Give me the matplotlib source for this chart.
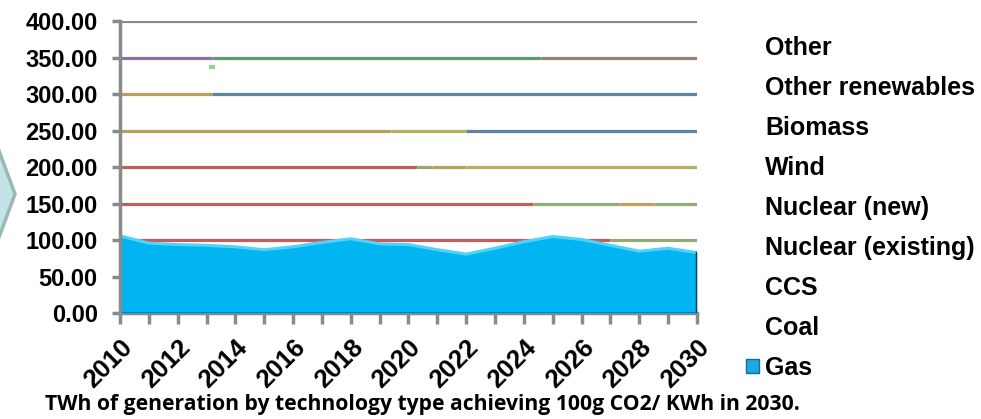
import matplotlib.pyplot as plt
from matplotlib.patches import Patch, Polygon
import numpy as np

plt.rcParams["font.family"] = ["Liberation Sans", "DejaVu Sans"]

# data
years = list(range(2010, 2031))
gas = [106, 96, 94, 93, 91, 87, 91, 97, 102, 95, 94, 87, 81, 89, 98, 105, 101, 93, 85, 89, 83]
series_names = ["Other", "Other renewables", "Biomass", "Wind", "Nuclear (new)",
                "Nuclear (existing)", "CCS", "Coal", "Gas"]
y_ticks = [0, 50, 100, 150, 200, 250, 300, 350, 400]
x_labels = list(range(2010, 2031, 2))
title = "TWh of generation by technology type achieving 100g CO2/ KWh in 2030."

# coloured gridline pieces (level, from, to, colour) - just styling
grid_pieces = [
    (400, 2010, 2030, "#8a8a8a"),
    (350, 2010, 2013.2, "#87739a"),
    (350, 2013.2, 2024.6, "#5f9878"),
    (350, 2024.6, 2030, "#948070"),
    (300, 2010, 2013.2, "#b89f5c"),
    (300, 2013.2, 2030, "#5f84a2"),
    (250, 2010, 2019.4, "#b89f5c"),
    (250, 2019.4, 2022.0, "#b2b064"),
    (250, 2022.0, 2030, "#5f84a2"),
    (200, 2010, 2020.3, "#c0605e"),
    (200, 2020.3, 2020.8, "#94a878"),
    (200, 2020.8, 2022.0, "#b89f5c"),
    (200, 2022.0, 2030, "#b2b064"),
    (150, 2010, 2024.3, "#c0605e"),
    (150, 2024.3, 2027.3, "#94ab78"),
    (150, 2027.3, 2028.5, "#bea25c"),
    (150, 2028.5, 2030, "#94ab78"),
    (100, 2010, 2027.0, "#c0605e"),
    (100, 2027.0, 2030, "#94ab78"),
]

fig = plt.figure(figsize=(9.81, 4.19), dpi=100)
ax = fig.add_axes([0.1223, 0.2523, 0.5882, 0.6976])

for lev, x0, x1, c in grid_pieces:
    ax.hlines(lev, x0, x1, colors=c, lw=2.3, zorder=1)
# small stray mark
ax.hlines(337, 2013.1, 2013.3, colors="#90d49a", lw=3, zorder=1)

# gas area
ax.fill_between(years, gas, color="#00b5f1", zorder=3, lw=0)
ax.plot(years, gas, color="#52d2fa", lw=2.2, zorder=4, solid_capstyle="butt")
ax.plot(years, [0] * len(years), color="#1d6f92", lw=2, zorder=4)
ax.plot([years[-1], years[-1]], [0, gas[-1]], color="#0c3a52", lw=2.5, zorder=4)

ax.set_xlim(2010, 2030)
ax.set_ylim(0, 400)
ax.set_yticks(y_ticks)
ax.set_yticklabels(["%.2f" % v for v in y_ticks], fontsize=17, fontweight="bold")
ax.set_xticks(years)
ax.set_xticklabels([str(y) if y in x_labels else "" for y in years], fontsize=18.5,
                   fontweight="bold", rotation=45, ha="right", rotation_mode="anchor")
ax.tick_params(axis="y", length=6, width=2.5, color="#8a8a8a", pad=10)
ax.tick_params(axis="x", length=8, width=2.5, color="#8a8a8a", pad=8)
for s in ["top", "right"]:
    ax.spines[s].set_visible(False)
for s in ["left", "bottom"]:
    ax.spines[s].set_color("#8a8a8a")
    ax.spines[s].set_linewidth(2.5)
ax.spines["left"].set_zorder(5)

# legend: only gas has a visible key
handles = [Patch(facecolor="none", edgecolor="none") for _ in series_names[:-1]]
handles.append(Patch(facecolor="#1ea8e0", edgecolor="#0d6f9c"))
fig.legend(handles, series_names, loc="upper left", bbox_to_anchor=(746 / 981, (419 - 36) / 419),
           frameon=False, borderpad=0, borderaxespad=0, handlelength=0.52, handleheight=0.52,
           handletextpad=0.24, labelspacing=0.64, prop={"size": 18, "weight": "bold"})

# chevron from the slide
fig.patches.append(Polygon([(-5 / 981, 1 - 140 / 419), (15 / 981, 1 - 194 / 419), (-5 / 981, 1 - 248 / 419)],
                           closed=True, transform=fig.transFigure, facecolor="#c4e3e6",
                           edgecolor="#9ab8b8", lw=2.5))

fig.text(422 / 981, 1 - 404 / 419, title, ha="center", va="center", fontsize=15.2,
         fontweight="bold", family=["Open Sans", "DejaVu Sans"])

fig.savefig("out.png", dpi=100)
